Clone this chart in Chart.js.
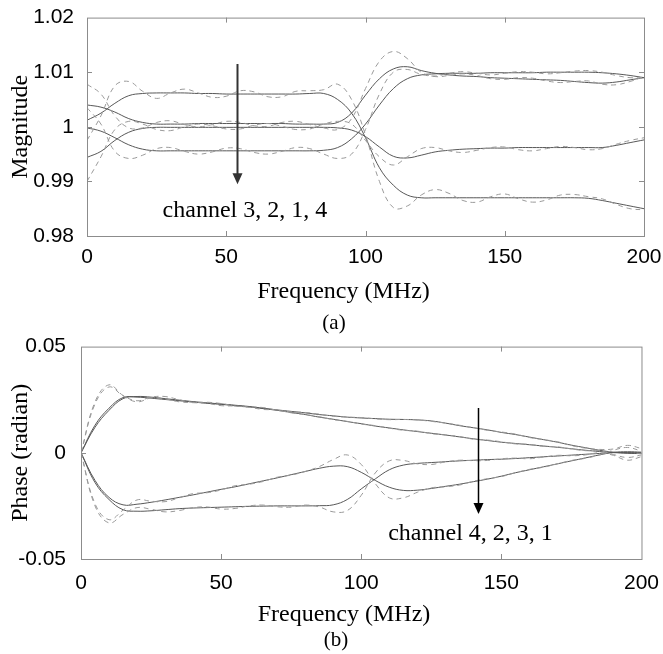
<!DOCTYPE html>
<html>
<head>
<meta charset="utf-8">
<script src="https://cdn.jsdelivr.net/npm/chart.js@4.4.1/dist/chart.umd.min.js"></script>
<style>
  body { margin: 0; background: #fff; }
  #wrap { position: relative; width: 663px; height: 654px; }
  canvas { position: absolute; left: 0; }
  .cap { position: absolute; font: 21px "Liberation Serif"; color: #000; transform: translate(-50%, -50%); white-space: nowrap; }
</style>
</head>
<body>
<div id="wrap">
  <canvas id="mag" width="663" height="327" style="top:0"></canvas>
  <canvas id="phase" width="663" height="327" style="top:327px"></canvas>
  <div class="cap" style="left:334px; top:322px">(a)</div>
  <div class="cap" style="left:336px; top:639px">(b)</div>
</div>
<script>
// frequency grid (MHz)
var freq = [0, 5, 10, 15, 20, 25, 30, 35, 40, 45, 50, 55, 60, 65, 70, 75, 80, 85, 90, 95,
    100, 105, 110, 115, 120, 125, 130, 135, 140, 145, 150, 155, 160, 165, 170, 175, 180, 185, 190, 195, 200];

// (a) magnitude, solid curves
var magCh3 = [1.0012, 1.0025, 1.0043, 1.0057, 1.0061, 1.0062, 1.0062, 1.0062, 1.0061, 1.0061,
    1.0060, 1.0060, 1.0060, 1.0060, 1.0060, 1.0060, 1.0061, 1.0061, 1.0050, 1.0025,
    0.9980, 0.9925, 0.9893, 0.9875, 0.9870, 0.9870, 0.9870, 0.9870, 0.9870, 0.9870,
    0.9870, 0.9870, 0.9870, 0.9870, 0.9870, 0.9870, 0.9869, 0.9865, 0.9860, 0.9855, 0.9850];
var magCh2 = [1.0040, 1.0036, 1.0027, 1.0015, 1.0008, 1.0005, 1.0005, 1.0005, 1.0006, 1.0006,
    1.0006, 1.0006, 1.0006, 1.0006, 1.0006, 1.0005, 1.0005, 1.0005, 1.0008, 1.0025,
    1.0058, 1.0088, 1.0106, 1.0110, 1.0103, 1.0098, 1.0095, 1.0093, 1.0092, 1.0090,
    1.0089, 1.0088, 1.0087, 1.0086, 1.0085, 1.0083, 1.0081, 1.0080, 1.0082, 1.0086, 1.0090];
var magCh1 = [0.9944, 0.9955, 0.9975, 0.9990, 0.9997, 0.9999, 0.9999, 0.9999, 0.9999, 0.9999,
    0.9999, 0.9999, 0.9999, 0.9999, 0.9999, 0.9999, 0.9999, 0.9999, 0.9998, 0.9994,
    0.9982, 0.9963, 0.9946, 0.9943, 0.9948, 0.9954, 0.9957, 0.9959, 0.9960, 0.9961,
    0.9961, 0.9962, 0.9962, 0.9962, 0.9962, 0.9962, 0.9962, 0.9962, 0.9966, 0.9971, 0.9976];
var magCh4 = [0.9998, 0.9992, 0.9980, 0.9967, 0.9959, 0.9956, 0.9956, 0.9956, 0.9956, 0.9956,
    0.9956, 0.9956, 0.9956, 0.9956, 0.9956, 0.9956, 0.9956, 0.9957, 0.9962, 0.9978,
    1.0005, 1.0040, 1.0070, 1.0088, 1.0095, 1.0097, 1.0098, 1.0098, 1.0098, 1.0099,
    1.0099, 1.0099, 1.0099, 1.0100, 1.0100, 1.0100, 1.0100, 1.0099, 1.0097, 1.0094, 1.0090];

// (a) magnitude, dashed curves
var magCh3Raw = [0.9975, 1.0020, 1.0075, 1.0083, 1.0065, 1.0052, 1.0062, 1.0069, 1.0062, 1.0054,
    1.0056, 1.0066, 1.0064, 1.0055, 1.0055, 1.0065, 1.0066, 1.0068, 1.0078, 1.0050,
    0.9985, 0.9900, 0.9852, 0.9855, 0.9875, 0.9885, 0.9878, 0.9865, 0.9862, 0.9872,
    0.9877, 0.9868, 0.9862, 0.9866, 0.9875, 0.9876, 0.9872, 0.9868, 0.9858, 0.9850, 0.9848];
var magCh2Raw = [1.0078, 1.0060, 1.0020, 0.9998, 0.9998, 1.0008, 1.0011, 1.0004, 1.0000, 1.0004,
    1.0010, 1.0008, 1.0002, 1.0001, 1.0008, 1.0010, 1.0004, 0.9998, 0.9995, 1.0015,
    1.0070, 1.0120, 1.0138, 1.0125, 1.0100, 1.0092, 1.0094, 1.0097, 1.0094, 1.0088,
    1.0087, 1.0090, 1.0089, 1.0084, 1.0081, 1.0083, 1.0084, 1.0078, 1.0077, 1.0083, 1.0092];
var magCh1Raw = [0.9900, 0.9945, 0.9995, 1.0010, 1.0005, 0.9995, 0.9993, 1.0000, 1.0005, 1.0002,
    0.9996, 0.9996, 1.0003, 1.0006, 1.0001, 0.9995, 0.9996, 1.0005, 1.0010, 1.0005,
    0.9975, 0.9945, 0.9930, 0.9945, 0.9960, 0.9962, 0.9956, 0.9953, 0.9957, 0.9962,
    0.9963, 0.9958, 0.9956, 0.9960, 0.9964, 0.9962, 0.9958, 0.9960, 0.9968, 0.9975, 0.9980];
var magCh4Raw = [1.0035, 1.0005, 0.9955, 0.9942, 0.9948, 0.9960, 0.9962, 0.9955, 0.9950, 0.9954,
    0.9961, 0.9960, 0.9953, 0.9950, 0.9955, 0.9962, 0.9960, 0.9950, 0.9942, 0.9950,
    0.9995, 1.0060, 1.0100, 1.0105, 1.0096, 1.0093, 1.0098, 1.0101, 1.0098, 1.0095,
    1.0098, 1.0101, 1.0100, 1.0097, 1.0099, 1.0102, 1.0103, 1.0100, 1.0094, 1.0090, 1.0090];

// (b) phase, solid curves
var phCh4 = [0, 0.0120, 0.0200, 0.0255, 0.0265, 0.0262, 0.0255, 0.0248, 0.0241, 0.0235,
    0.0230, 0.0224, 0.0218, 0.0210, 0.0202, 0.0195, 0.0188, 0.0180, 0.0174, 0.0168,
    0.0164, 0.0161, 0.0158, 0.0157, 0.0155, 0.0150, 0.0140, 0.0128, 0.0118, 0.0108,
    0.0096, 0.0086, 0.0074, 0.0062, 0.0050, 0.0036, 0.0024, 0.0012, 0.0003, -0.0002, -0.0004];
var phCh2 = [0, 0.0130, 0.0210, 0.0260, 0.0262, 0.0257, 0.0251, 0.0245, 0.0239, 0.0233,
    0.0228, 0.0222, 0.0216, 0.0208, 0.0200, 0.0190, 0.0180, 0.0168, 0.0158, 0.0147,
    0.0137, 0.0126, 0.0117, 0.0108, 0.0100, 0.0092, 0.0084, 0.0075, 0.0066, 0.0058,
    0.0050, 0.0044, 0.0038, 0.0032, 0.0026, 0.0019, 0.0012, 0.0006, 0.0001, -0.0001, -0.0002];
var phCh3 = [0, -0.0140, -0.0220, -0.0268, -0.0275, -0.0273, -0.0268, -0.0263, -0.0260, -0.0258,
    -0.0256, -0.0254, -0.0252, -0.0251, -0.0250, -0.0250, -0.0250, -0.0249, -0.0245, -0.0220,
    -0.0170, -0.0123, -0.0080, -0.0058, -0.0050, -0.0046, -0.0042, -0.0038, -0.0035, -0.0032,
    -0.0030, -0.0027, -0.0023, -0.0019, -0.0015, -0.0011, -0.0007, -0.0003, 0.0001, 0.0001, 0];
var phCh1 = [0, -0.0130, -0.0210, -0.0245, -0.0242, -0.0233, -0.0222, -0.0210, -0.0198, -0.0185,
    -0.0172, -0.0160, -0.0146, -0.0132, -0.0118, -0.0103, -0.0088, -0.0073, -0.0063, -0.0065,
    -0.0092, -0.0130, -0.0162, -0.0177, -0.0176, -0.0168, -0.0158, -0.0148, -0.0136, -0.0124,
    -0.0110, -0.0094, -0.0080, -0.0066, -0.0052, -0.0038, -0.0024, -0.0010, 0.0002, 0.0005, 0.0003];

// (b) phase, dashed curves
var phCh4Raw = [0, 0.0240, 0.0320, 0.0270, 0.0245, 0.0262, 0.0265, 0.0250, 0.0238, 0.0238,
    0.0232, 0.0220, 0.0216, 0.0213, 0.0200, 0.0193, 0.0190, 0.0182, 0.0172, 0.0168,
    0.0166, 0.0160, 0.0156, 0.0157, 0.0155, 0.0148, 0.0140, 0.0130, 0.0118, 0.0106,
    0.0098, 0.0088, 0.0072, 0.0062, 0.0052, 0.0034, 0.0022, 0.0016, 0.0018, 0.0035, 0.0020];
var phCh2Raw = [0, 0.0230, 0.0310, 0.0268, 0.0240, 0.0258, 0.0254, 0.0240, 0.0236, 0.0233,
    0.0222, 0.0220, 0.0214, 0.0204, 0.0202, 0.0188, 0.0180, 0.0170, 0.0156, 0.0148,
    0.0135, 0.0128, 0.0116, 0.0106, 0.0102, 0.0090, 0.0084, 0.0077, 0.0064, 0.0060,
    0.0052, 0.0042, 0.0040, 0.0030, 0.0028, 0.0018, 0.0010, 0.0010, -0.0008, -0.0022, -0.0010];
var phCh3Raw = [0, -0.0250, -0.0330, -0.0290, -0.0258, -0.0266, -0.0278, -0.0272, -0.0258, -0.0255,
    -0.0265, -0.0262, -0.0250, -0.0246, -0.0254, -0.0256, -0.0246, -0.0255, -0.0278, -0.0272,
    -0.0200, -0.0095, -0.0038, -0.0036, -0.0052, -0.0055, -0.0043, -0.0035, -0.0037, -0.0036,
    -0.0028, -0.0025, -0.0028, -0.0020, -0.0012, -0.0014, -0.0010, 0.0000, -0.0012, -0.0035, -0.0018];
var phCh1Raw = [0, -0.0240, -0.0315, -0.0270, -0.0222, -0.0228, -0.0230, -0.0212, -0.0192, -0.0188,
    -0.0175, -0.0155, -0.0148, -0.0135, -0.0115, -0.0105, -0.0088, -0.0065, -0.0032, -0.0010,
    -0.0055, -0.0145, -0.0212, -0.0212, -0.0186, -0.0165, -0.0160, -0.0152, -0.0134, -0.0122,
    -0.0112, -0.0094, -0.0078, -0.0068, -0.0052, -0.0036, -0.0026, -0.0010, 0.0012, 0.0025, 0.0008];

var tickFont = {family: '"Liberation Sans", Arial, sans-serif', size: 21};
var serifFont = '"Liberation Serif", "Times New Roman", serif';

function points(values) {
    return freq.map(function (f, i) { return {x: f, y: values[i]}; });
}

function solid(values) {
    return {data: points(values), borderColor: '#585858', borderWidth: 1, pointRadius: 0, tension: 0.4, fill: false};
}

function dashed(values) {
    return {data: points(values), borderColor: '#9a9a9a', borderWidth: 1, borderDash: [5, 4], pointRadius: 0, tension: 0.4, fill: false};
}

// Box, inward tick marks, the arrow with its label and the x axis title.
var decor = {
    id: 'decor',
    afterDraw: function (chart, args, opts) {
        var ctx = chart.ctx, a = chart.chartArea, x = chart.scales.x, y = chart.scales.y;
        ctx.save();
        ctx.strokeStyle = '#8c8c8c';
        ctx.lineWidth = 1;
        ctx.strokeRect(a.left + 0.5, a.top + 0.5, a.right - a.left, a.bottom - a.top);

        ctx.beginPath();
        x.ticks.forEach(function (t) {
            var px = Math.round(x.getPixelForValue(t.value)) + 0.5;
            if (px <= a.left + 1 || px >= a.right - 1) return;
            ctx.moveTo(px, a.top); ctx.lineTo(px, a.top + 5);
            ctx.moveTo(px, a.bottom); ctx.lineTo(px, a.bottom - 5);
        });
        y.ticks.forEach(function (t) {
            var py = Math.round(y.getPixelForValue(t.value)) + 0.5;
            if (py <= a.top + 1 || py >= a.bottom - 1) return;
            ctx.moveTo(a.left, py); ctx.lineTo(a.left + 5, py);
            ctx.moveTo(a.right, py); ctx.lineTo(a.right - 5, py);
        });
        ctx.stroke();

        // arrow
        var ax = Math.round(x.getPixelForValue(opts.arrow.x)) + 0.5;
        var y0 = y.getPixelForValue(opts.arrow.from), y1 = y.getPixelForValue(opts.arrow.to);
        ctx.strokeStyle = opts.arrow.color;
        ctx.fillStyle = opts.arrow.color;
        ctx.lineWidth = opts.arrow.width;
        ctx.beginPath();
        ctx.moveTo(ax, y0); ctx.lineTo(ax, y1 - 8);
        ctx.stroke();
        ctx.beginPath();
        ctx.moveTo(ax, y1); ctx.lineTo(ax - 5, y1 - 11); ctx.lineTo(ax + 5, y1 - 11);
        ctx.closePath();
        ctx.fill();

        ctx.fillStyle = '#000';
        ctx.textAlign = 'center';
        ctx.textBaseline = 'middle';
        ctx.font = '24px ' + serifFont;
        ctx.fillText(opts.label.text, x.getPixelForValue(opts.label.x), y.getPixelForValue(opts.label.y));
        ctx.fillText(opts.xTitle.text, opts.xTitle.px, opts.xTitle.py);
        ctx.restore();
    }
};

function makeChart(id, cfg) {
    return new Chart(document.getElementById(id), {
        type: 'line',
        data: {datasets: cfg.datasets},
        options: {
            responsive: false,
            animation: false,
            devicePixelRatio: 1,
            layout: {padding: cfg.padding},
            plugins: {legend: {display: false}, tooltip: {enabled: false}, decor: cfg.decor},
            scales: {
                x: {
                    type: 'linear', min: 0, max: 200,
                    ticks: {stepSize: 50, padding: cfg.xPad, font: tickFont, color: '#000', maxRotation: 0},
                    grid: {display: false}, border: {display: false},
                    afterFit: function (s) { s.height = cfg.xHeight; }
                },
                y: {
                    type: 'linear', min: cfg.yMin, max: cfg.yMax,
                    ticks: {
                        stepSize: cfg.yStep, padding: cfg.yPad, font: tickFont, color: '#000',
                        callback: function (v) { return String(Math.round(v * 100) / 100); }
                    },
                    grid: {display: false}, border: {display: false},
                    title: {display: true, text: cfg.yTitle, color: '#000', font: {family: serifFont, size: 24}, padding: {top: 6, bottom: 0}},
                    afterFit: function (s) { s.width = cfg.yWidth; }
                }
            }
        },
        plugins: [decor]
    });
}

makeChart('mag', {
    datasets: [dashed(magCh3Raw), dashed(magCh2Raw), dashed(magCh1Raw), dashed(magCh4Raw),
        solid(magCh3), solid(magCh2), solid(magCh1), solid(magCh4)],
    padding: {top: 16, right: 19, left: 0, bottom: 0},
    xHeight: 91, yWidth: 87, xPad: 1, yPad: 5,
    yMin: 0.98, yMax: 1.02, yStep: 0.01, yTitle: 'Magnitude',
    decor: {
        arrow: {x: 54, from: 1.0115, to: 0.9895, color: '#333', width: 2},
        label: {text: 'channel 3, 2, 1, 4', x: 56.7, y: 0.98455},
        xTitle: {text: 'Frequency (MHz)', px: 343.5, py: 292}
    }
});

makeChart('phase', {
    datasets: [dashed(phCh4Raw), dashed(phCh2Raw), dashed(phCh3Raw), dashed(phCh1Raw),
        solid(phCh4), solid(phCh2), solid(phCh3), solid(phCh1)],
    padding: {top: 11, right: 20, left: 0, bottom: 0},
    xHeight: 95, yWidth: 81, xPad: 4, yPad: 7,
    yMin: -0.05, yMax: 0.05, yStep: 0.05, yTitle: 'Phase (radian)',
    decor: {
        arrow: {x: 141.6, from: 0.0211, to: -0.0288, color: '#000', width: 1.5},
        label: {text: 'channel 4, 2, 3, 1', x: 139, y: -0.0379},
        xTitle: {text: 'Frequency (MHz)', px: 344, py: 288}
    }
});
</script>
</body>
</html>
